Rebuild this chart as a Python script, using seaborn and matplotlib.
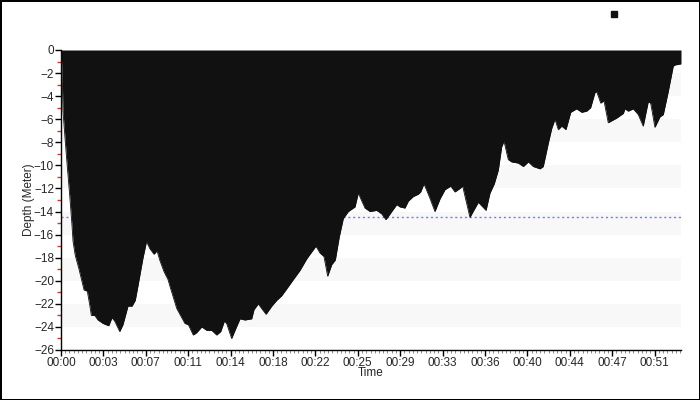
import matplotlib.pyplot as plt
import pandas as pd
import seaborn as sns
from matplotlib.lines import Line2D
from matplotlib.ticker import FixedLocator, MultipleLocator


# dive profile, time in minutes from start, depth in metres
MINUTES = [
    0.0, 0.05, 0.1, 0.17, 0.46, 0.75, 0.95, 1.04, 1.23, 1.53, 1.75, 1.99, 2.27,
    2.48, 2.62, 2.91, 3.19, 3.63, 4.12, 4.40, 4.64, 5.07, 5.35, 5.78, 6.13, 6.41,
    6.65, 7.08, 7.38, 7.66, 8.03, 8.29, 8.52, 8.89, 9.24, 9.41, 9.99, 10.70,
    10.99, 11.42, 11.71, 12.15, 12.58, 13.01, 13.44, 13.79, 14.10, 14.30, 14.50,
    14.73, 15.02, 15.45, 15.88, 16.46, 16.66, 17.03, 17.32, 17.70, 18.19, 18.62,
    19.05, 19.48, 20.05, 20.63, 21.21, 21.64, 22.01, 22.36, 22.70, 23.02, 23.37,
    23.68, 24.02, 24.37, 24.80, 25.38, 25.66, 26.24, 26.67, 27.25, 27.68, 28.05,
    28.55, 28.98, 29.26, 29.69, 29.98, 30.41, 30.84, 31.05, 31.33, 31.79, 32.28,
    32.72, 33.15, 33.64, 34.01, 34.44, 34.67, 35.30, 36.02, 36.69, 37.03, 37.40,
    37.75, 38.04, 38.24, 38.61, 38.90, 39.47, 39.91, 40.34, 40.77, 41.35, 41.63,
    42.06, 42.36, 42.64, 42.93, 43.22, 43.59, 44.00, 44.51, 44.95, 45.38, 45.72,
    46.09, 46.24, 46.59, 46.87, 47.24, 47.97, 48.54, 48.68, 48.97, 49.40, 49.83,
    50.26, 50.69, 50.90, 51.27, 51.70, 51.99, 52.42, 52.85, 53.00, 53.52,
]
DEPTH = [
    0.0, -1.0, -2.0, -5.3, -9.1, -12.6, -15.2, -16.6, -17.8, -18.9, -19.8, -20.8,
    -20.9, -22.1, -23.0, -23.0, -23.4, -23.7, -23.9, -23.2, -23.5, -24.4, -23.8,
    -22.2, -22.2, -21.7, -20.4, -18.0, -16.6, -17.2, -17.7, -17.4, -18.2, -19.2,
    -19.9, -20.5, -22.4, -23.7, -23.8, -24.7, -24.5, -24.0, -24.3, -24.3, -24.7,
    -24.4, -23.5, -23.7, -24.3, -25.0, -24.3, -23.3, -23.4, -23.3, -22.5, -22.0,
    -22.4, -22.9, -22.2, -21.7, -21.3, -20.7, -19.9, -19.1, -18.1, -17.5, -17.0,
    -17.6, -17.9, -19.6, -18.6, -18.2, -16.2, -14.6, -14.0, -13.6, -12.4, -13.7,
    -14.0, -13.9, -14.2, -14.7, -14.0, -13.4, -13.6, -13.7, -13.1, -12.7, -12.5,
    -12.3, -11.6, -12.7, -14.0, -12.9, -12.1, -11.8, -12.3, -12.0, -11.8, -14.5,
    -13.2, -13.9, -12.4, -11.6, -10.4, -8.4, -7.9, -9.5, -9.7, -9.8, -10.1, -9.7,
    -10.1, -10.3, -10.1, -8.1, -6.8, -6.0, -6.9, -6.6, -6.9, -5.4, -5.1, -5.4,
    -5.3, -5.0, -3.7, -3.6, -4.6, -4.4, -6.3, -5.9, -5.5, -5.1, -5.3, -5.1, -5.6,
    -6.6, -4.5, -4.6, -6.7, -5.8, -5.6, -3.6, -1.4, -1.3, -1.2,
]
AVERAGE_DEPTH = -14.5
TIME_LABELS = [
    "00:00", "00:03", "00:07", "00:11", "00:14", "00:18", "00:22", "00:25",
    "00:29", "00:33", "00:36", "00:40", "00:44", "00:47", "00:51",
]
TICK_STEP = 3.66
BANDS = [(-4, -2), (-8, -6), (-12, -10), (-16, -14), (-20, -18), (-24, -22)]

FILL = "#111111"


def main() -> None:
    sns.set_style("white")
    plt.rcParams["font.family"] = ["Liberation Sans", "DejaVu Sans"]

    df = pd.DataFrame({"minutes": MINUTES, "depth": DEPTH})

    fig = plt.figure(figsize=(7, 4), dpi=100, edgecolor="black", linewidth=2)
    ax = fig.add_axes([61 / 700, 50 / 400, 620 / 700, 300 / 400])

    for low, high in BANDS:
        ax.axhspan(low, high, color="#f8f8f8", zorder=0, lw=0)
    ax.axhline(AVERAGE_DEPTH, color="#7b7bf0", linestyle=(0, (1.5, 2)), lw=1, zorder=1)

    ax.fill_between(df["minutes"], 0, df["depth"], color=FILL, lw=0, zorder=2)
    sns.lineplot(data=df, x="minutes", y="depth", ax=ax, color=FILL, lw=0.6, zorder=3)

    ax.set_xlim(0, df["minutes"].max())
    ax.set_ylim(-26, 0)

    ax.xaxis.set_major_locator(FixedLocator([i * TICK_STEP for i in range(len(TIME_LABELS))]))
    ax.set_xticklabels(TIME_LABELS)
    ax.xaxis.set_minor_locator(MultipleLocator(TICK_STEP / 10))
    ax.yaxis.set_major_locator(MultipleLocator(2))
    ax.yaxis.set_minor_locator(MultipleLocator(1))

    ax.tick_params(axis="both", which="major", direction="out", length=4, width=1,
                   color="black", labelsize=8.5, pad=1, left=True, bottom=True)
    ax.tick_params(axis="x", which="minor", direction="out", length=2, width=0.6,
                   color="#777777", bottom=True)
    ax.tick_params(axis="y", which="minor", direction="out", length=3, width=1,
                   color="#e03030", left=True)

    for side in ["top", "right"]:
        ax.spines[side].set_visible(False)
    for side in ["left", "bottom"]:
        ax.spines[side].set_color("black")
        ax.spines[side].set_linewidth(1)

    ax.set_xlabel("Time", fontsize=8.5, labelpad=-1.5)
    ax.set_ylabel("Depth (Meter)", fontsize=8.5, labelpad=-1)

    marker = Line2D([], [], marker="s", color=FILL, linestyle="none", markersize=5)
    fig.legend(handles=[marker], labels=[""], loc="center",
               bbox_to_anchor=(614 / 700, 1 - 15 / 400), frameon=False,
               handlelength=1, handletextpad=0)

    fig.savefig("out.png", dpi=100)
    plt.close(fig)


if __name__ == "__main__":
    main()
